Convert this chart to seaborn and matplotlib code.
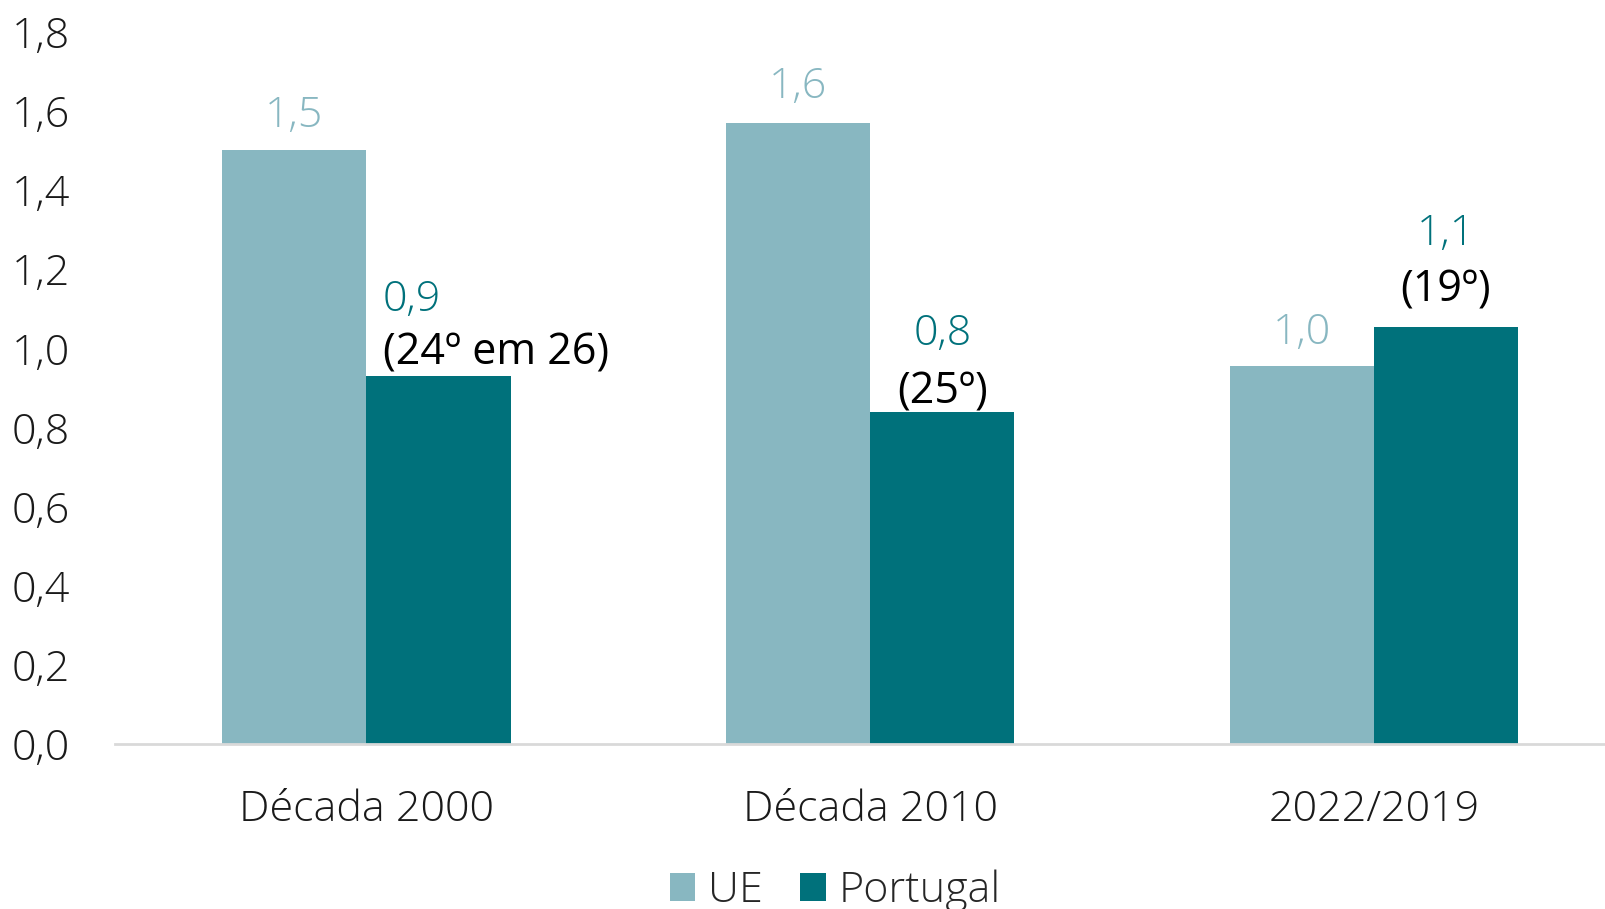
import pandas as pd
import seaborn as sns
import matplotlib.pyplot as plt
import matplotlib.ticker as tkr

periodos = ["Década 2000", "Década 2010", "2022/2019"]
ue = [1.50, 1.57, 0.955]
portugal = [0.93, 0.84, 1.055]
ue_labels = ["1,5", "1,6", "1,0"]
pt_labels = ["0,9", "0,8", "1,1"]
pt_ranks = ["(24º em 26)", "(25º)", "(19º)"]

cor_ue = "#88B7C1"
cor_pt = "#00717B"

sns.set_style("white")
plt.rcParams["font.family"] = ["Open Sans", "DejaVu Sans"]
plt.rcParams["font.weight"] = "light"

df = pd.DataFrame(
    {
        "periodo": periodos * 2,
        "valor": ue + portugal,
        "serie": ["UE"] * 3 + ["Portugal"] * 3,
    }
)

fig = plt.figure(figsize=(16.05, 9.09), dpi=100)
ax = fig.add_axes([0.0714, 0.1813, 0.9286, 0.7838])

sns.barplot(
    data=df,
    x="periodo",
    y="valor",
    hue="serie",
    palette=[cor_ue, cor_pt],
    saturation=1,
    width=0.573,
    gap=0,
    linewidth=0,
    ax=ax,
)

ax.set_ylim(0, 1.8)
ax.set_xlim(-0.5, 2.459)
ax.yaxis.set_major_locator(tkr.MultipleLocator(0.2))
ax.yaxis.set_major_formatter(tkr.FuncFormatter(lambda v, p: f"{v:.1f}".replace(".", ",")))
ax.set_xlabel("")
ax.set_ylabel("")
ax.tick_params(axis="y", length=0, pad=32, labelsize=31)
ax.tick_params(axis="x", length=0, pad=32, labelsize=31)
for lab in ax.get_xticklabels() + ax.get_yticklabels():
    lab.set_color("#1a1a1a")

for s in ["top", "right", "left"]:
    ax.spines[s].set_visible(False)
ax.spines["bottom"].set_color("#D9D9D9")
ax.spines["bottom"].set_linewidth(2)

half = 0.573 / 4
ue_off = [17, 18, 16]
pt_off = [47, 48, 59]
rank_off = [8, 6, 18]
for i in range(3):
    ax.annotate(ue_labels[i], (i - half, ue[i]), xytext=(0, ue_off[i]),
                textcoords="offset points", ha="center", va="baseline",
                color=cor_ue, fontsize=31)
    if i == 0:
        x, ha = i + 0.033, "left"
    else:
        x, ha = i + half, "center"
    ax.annotate(pt_labels[i], (x, portugal[i]), xytext=(0, pt_off[i]),
                textcoords="offset points", ha=ha, va="baseline",
                color=cor_pt, fontsize=31)
    ax.annotate(pt_ranks[i], (x, portugal[i]), xytext=(0, rank_off[i]),
                textcoords="offset points", ha=ha, va="baseline",
                color="black", fontsize=31, fontweight="normal")

handles, labels = ax.get_legend_handles_labels()
ax.legend(
    handles, labels,
    loc="center", bbox_to_anchor=(0.5205, 0.020), bbox_transform=fig.transFigure,
    ncol=2, frameon=False, fontsize=31,
    handlelength=0.6, handleheight=0.6, handletextpad=0.3, columnspacing=0.86,
)

fig.savefig("out.png", dpi=100)
